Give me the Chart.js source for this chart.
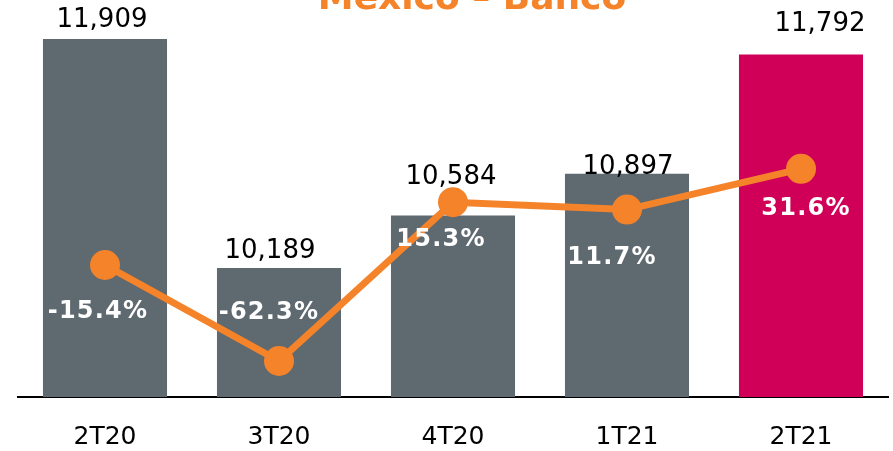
<!DOCTYPE html>
<html>
<head>
<meta charset="utf-8">
<script src="https://cdn.jsdelivr.net/npm/chart.js@4/dist/chart.umd.min.js"></script>
<style>
    html, body { margin: 0; padding: 0; background: #fff; }
    #wrap { width: 893px; height: 451px; position: relative; }
</style>
</head>
<body>
<div id="wrap"><canvas id="chart"></canvas></div>
<script>
const title = "México – Banco";
const quarters = ["2T20", "3T20", "4T20", "1T21", "2T21"];
const resultado = [11909, 10189, 10584, 10897, 11792];
const variacion = [-15.4, -62.3, 15.3, 11.7, 31.6];

const barColors = ["#5e6970", "#5e6970", "#5e6970", "#5e6970", "#d00058"];
const orange = "#f5832a";

// label nudges, to sit where the original slide put them
const valueOffsets = [[-3, -12], [-9, -10], [-2, -31], [1, 0], [19, -24]];
const pctOffsets = [[-7, 47], [-10, -48], [-12, 38], [-15, 48], [5, 40]];

const fmt = n => n.toLocaleString("en-US");

const labelPlugin = {
    id: "labels",
    afterDatasetsDraw(chart) {
        const ctx = chart.ctx;
        const bars = chart.getDatasetMeta(0).data;
        const points = chart.getDatasetMeta(1).data;
        ctx.save();
        ctx.textAlign = "center";
        ctx.textBaseline = "alphabetic";

        ctx.fillStyle = "#000";
        ctx.font = "26px 'DejaVu Sans'";
        bars.forEach((bar, i) => {
            ctx.fillText(fmt(resultado[i]), bar.x + valueOffsets[i][0], bar.y + valueOffsets[i][1]);
        });

        ctx.fillStyle = "#fff";
        ctx.font = "bold 24px 'DejaVu Sans'";
        ctx.letterSpacing = "1.2px";
        ctx.textBaseline = "middle";
        points.forEach((pt, i) => {
            ctx.fillText(variacion[i].toFixed(1) + "%", pt.x + pctOffsets[i][0], pt.y + pctOffsets[i][1]);
        });
        ctx.restore();
    },
    afterDraw(chart) {
        const ctx = chart.ctx;
        ctx.save();
        ctx.fillStyle = orange;
        ctx.font = "bold 36px 'DejaVu Sans'";
        ctx.textAlign = "center";
        ctx.textBaseline = "alphabetic";
        ctx.fillText(title, 472, 9);
        ctx.restore();
    }
};

const ctx = document.getElementById("chart").getContext("2d");
new Chart(ctx, {
    data: {
        labels: quarters,
        datasets: [
            {
                type: "bar",
                data: resultado,
                backgroundColor: barColors,
                barPercentage: 0.713,
                categoryPercentage: 1,
                yAxisID: "y",
                order: 1
            },
            {
                type: "line",
                data: variacion,
                borderColor: orange,
                borderWidth: 7,
                pointBackgroundColor: orange,
                pointBorderColor: orange,
                pointBorderWidth: 2,
                pointRadius: 14,
                tension: 0,
                yAxisID: "y2",
                order: 0
            }
        ]
    },
    options: {
        responsive: true,
        maintainAspectRatio: false,
        animation: false,
        layout: { autoPadding: false, padding: { left: 18, right: 5, top: 0, bottom: 0 } },
        plugins: {
            legend: { display: false },
            tooltip: { enabled: false }
        },
        scales: {
            x: {
                offset: true,
                grid: { display: false, drawTicks: false },
                border: { display: true, color: "#000", width: 2 },
                ticks: {
                    color: "#000",
                    padding: 25,
                    font: { family: "DejaVu Sans", size: 25 }
                },
                afterFit(scale) {
                    scale.height = 54;
                    scale.paddingLeft = 0;
                    scale.paddingRight = 0;
                }
            },
            y: { display: false, min: 9220, max: 12202 },
            y2: { display: false, min: -79.9, max: 114.1 }
        }
    },
    plugins: [labelPlugin]
});
</script>
</body>
</html>
